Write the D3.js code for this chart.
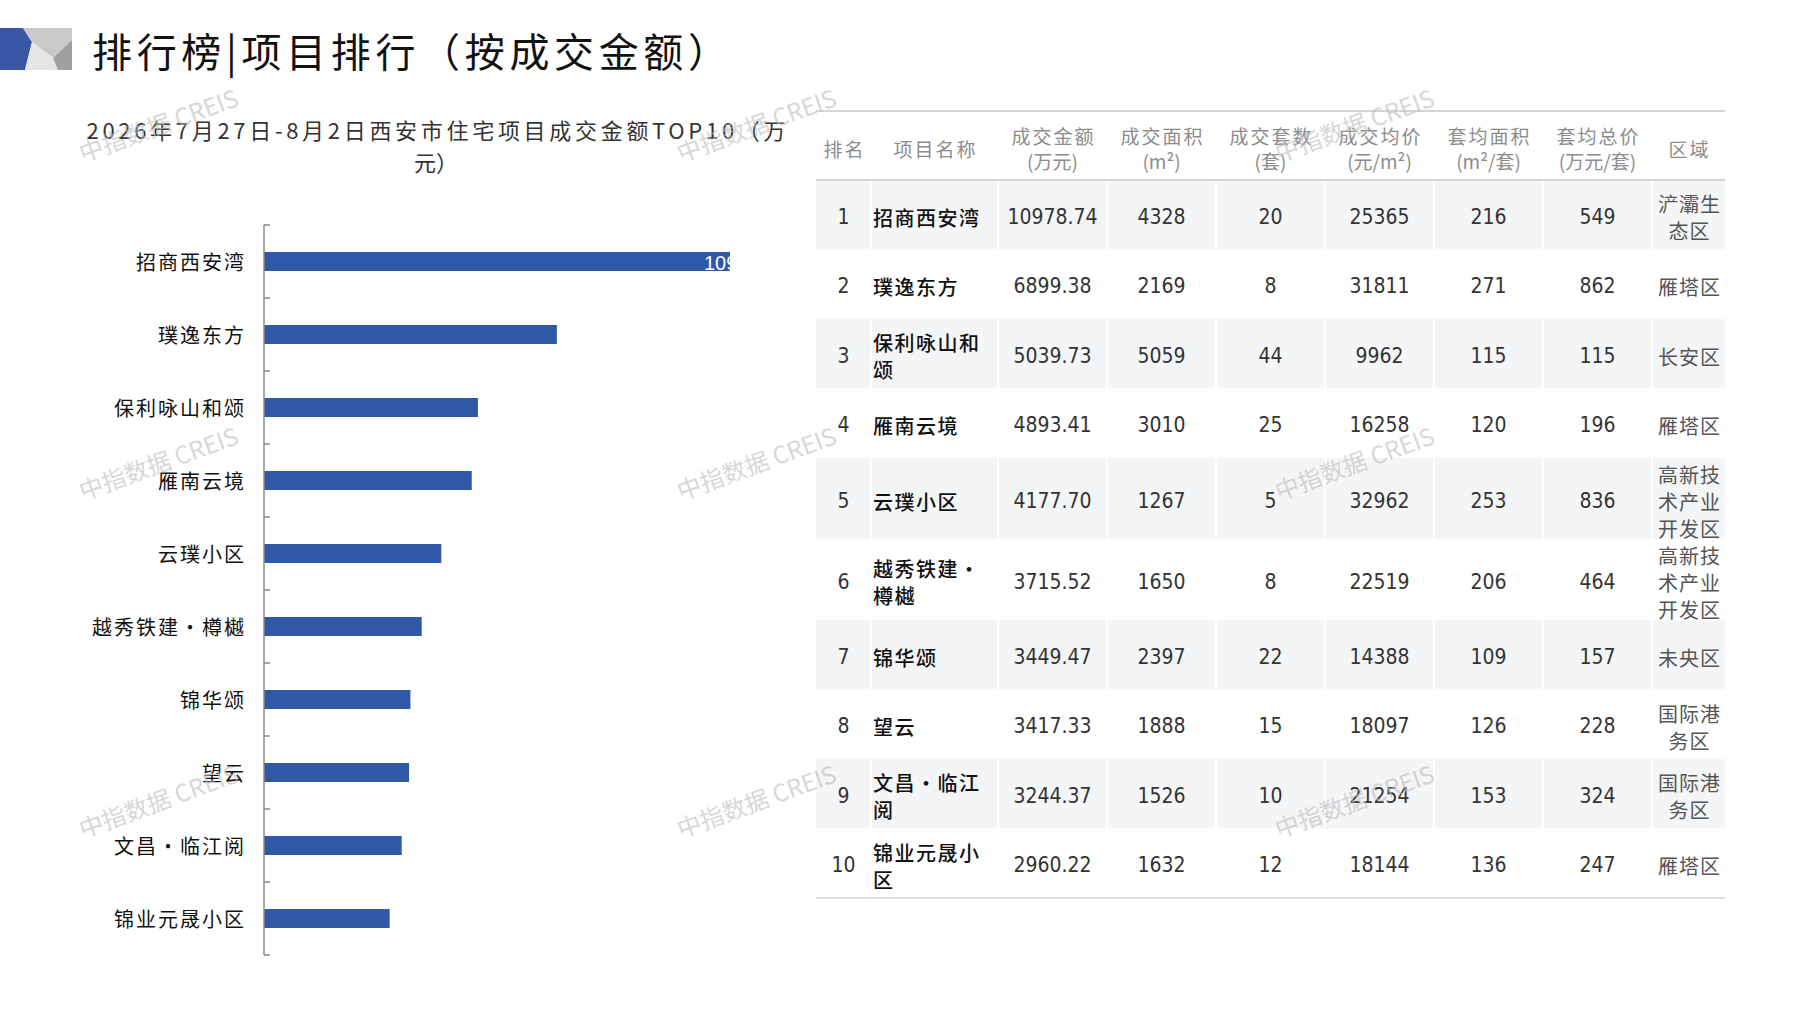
<!DOCTYPE html>
<html>
<head>
<meta charset="utf-8">
<script src="https://cdn.jsdelivr.net/npm/d3@7"></script>
<style>
  body { margin: 0; background: #fff; }
  svg { display: block; }
  .cjk { font-family: "Noto Sans CJK SC", sans-serif; }
  .num { font-family: "Liberation Sans Narrow", "DejaVu Sans Condensed", "Liberation Sans", sans-serif; }
</style>
</head>
<body>
<svg id="chart" width="1797" height="1010"></svg>
<script>
// ---- data ----
const categories = ['招商西安湾', '璞逸东方', '保利咏山和颂', '雁南云境', '云璞小区', '越秀铁建·樽樾', '锦华颂', '望云', '文昌·临江阅', '锦业元晟小区'];
const amount = [10978.74, 6899.38, 5039.73, 4893.41, 4177.70, 3715.52, 3449.47, 3417.33, 3244.37, 2960.22];
const area = [4328, 2169, 5059, 3010, 1267, 1650, 2397, 1888, 1526, 1632];
const units = [20, 8, 44, 25, 5, 8, 22, 15, 10, 12];
const avgPrice = [25365, 31811, 9962, 16258, 32962, 22519, 14388, 18097, 21254, 18144];
const avgArea = [216, 271, 115, 120, 253, 206, 109, 126, 153, 136];
const avgTotal = [549, 862, 115, 196, 836, 464, 157, 228, 324, 247];
const districts = ['浐灞生态区', '雁塔区', '长安区', '雁塔区', '高新技术产业开发区', '高新技术产业开发区', '未央区', '国际港务区', '国际港务区', '雁塔区'];

const headerTop = ['排名', '项目名称', '成交金额', '成交面积', '成交套数', '成交均价', '套均面积', '套均总价', '区域'];
const headerSub = ['', '', '(万元)', '(m²)', '(套)', '(元/m²)', '(m²/套)', '(万元/套)', ''];

const pageTitle = '排行榜|项目排行（按成交金额）';
const chartTitle = ['2026年7月27日-8月2日西安市住宅项目成交金额TOP10（万', '元）'];
const watermark = '中指数据 CREIS';

const svg = d3.select('#chart');

// ---- page header icon + title ----
const icon = svg.append('g');
icon.append('polygon').attr('points', '0,28 23,28 32,42 25,70 0,70').attr('fill', '#3b56a5');
icon.append('polygon').attr('points', '23,28 72,28 72,40 53,58 32,42').attr('fill', '#c9c9c9');
icon.append('polygon').attr('points', '32,42 53,58 58,70 25,70').attr('fill', '#e5e5e5');
icon.append('polygon').attr('points', '72,40 72,70 58,70 53,58').attr('fill', '#9f9f9f');

svg.append('text')
  .attr('class', 'cjk')
  .attr('x', 92).attr('y', 50)
  .attr('dominant-baseline', 'central')
  .attr('textLength', 636)
  .attr('lengthAdjust', 'spacing')
  .style('font-size', '40px')
  .attr('fill', '#111')
  .text(pageTitle);

// ---- bar chart ----
const x = d3.scaleLinear()
  .domain([0, d3.max(amount)])
  .range([264, 730]);

const y = d3.scaleBand()
  .domain(categories)
  .range([225, 955])
  .paddingInner(0.74)
  .paddingOuter(0.37);

svg.selectAll('.ct')
  .data(chartTitle)
  .enter()
  .append('text')
  .attr('class', 'cjk ct')
  .attr('x', 436)
  .attr('y', (d, i) => 129 + i * 32)
  .attr('dominant-baseline', 'central')
  .attr('text-anchor', 'middle')
  .attr('textLength', (d, i) => i === 0 ? 699 : null)
  .attr('lengthAdjust', 'spacing')
  .style('font-size', '22px')
  .attr('fill', '#333')
  .text(d => d);

svg.append('clipPath').attr('id', 'plotClip')
  .append('rect')
  .attr('x', x.range()[0]).attr('y', y.range()[0])
  .attr('width', x.range()[1] - x.range()[0])
  .attr('height', y.range()[1] - y.range()[0]);

const plot = svg.append('g');

plot.selectAll('.bar')
  .data(amount)
  .enter()
  .append('rect')
  .attr('class', 'bar')
  .attr('x', x(0))
  .attr('y', (d, i) => y(categories[i]))
  .attr('width', d => x(d) - x(0))
  .attr('height', y.bandwidth())
  .attr('fill', '#2f58a6');

// only the leading bar carries a (clipped) value label
plot.append('text')
  .attr('clip-path', 'url(#plotClip)')
  .attr('x', x(amount[0]) - 26)
  .attr('y', y(categories[0]) + y.bandwidth() / 2 + 1)
  .attr('dominant-baseline', 'central')
  .style('font-family', '"Liberation Sans", Arial, sans-serif')
  .style('font-size', '20px')
  .attr('fill', '#fff')
  .text(d3.format('.2f')(amount[0]));

// category axis
const axis = svg.append('g').attr('stroke', '#8a8a8a').attr('stroke-width', 1.5);
axis.append('line')
  .attr('x1', x(0)).attr('x2', x(0))
  .attr('y1', y.range()[0]).attr('y2', y.range()[1]);
axis.selectAll('.tick')
  .data(d3.range(categories.length + 1))
  .enter()
  .append('line')
  .attr('x1', x(0)).attr('x2', x(0) + 6)
  .attr('y1', i => y.range()[0] + i * y.step())
  .attr('y2', i => y.range()[0] + i * y.step());

svg.selectAll('.cat')
  .data(categories)
  .enter()
  .append('text')
  .attr('class', 'cjk cat')
  .attr('x', 246)
  .attr('y', d => y(d) + y.bandwidth() / 2)
  .attr('dominant-baseline', 'central')
  .attr('text-anchor', 'end')
  .style('font-size', '20px')
  .style('letter-spacing', '2px')
  .attr('fill', '#111')
  .text(d => d);

// ---- ranking table ----
const colWidths = [55, 127, 109, 109, 109, 109, 109, 109, 73];
const colEdges = [816].concat(Array.from(d3.cumsum(colWidths), v => 816 + v));
const colCenter = i => (colEdges[i] + colEdges[i + 1]) / 2;

const chunk = (s, n) => {
  const out = [];
  const chars = Array.from(s);
  for (let i = 0; i < chars.length; i += n) out.push(chars.slice(i, i + n).join(''));
  return out;
};

const nameLines = categories.map(d => chunk(d, 5));
const distLines = districts.map(d => chunk(d, 3));
const rowHeights = categories.map((d, i) => Math.max(69.5, Math.max(nameLines[i].length, distLines[i].length) * 27));
const headTop = 111, headBottom = 180;
const rowTops = [headBottom].concat(Array.from(d3.cumsum(rowHeights), v => headBottom + v));

const table = svg.append('g');

// shaded odd rows
table.selectAll('.shade')
  .data(categories.filter((d, i) => i % 2 === 0))
  .enter()
  .append('rect')
  .attr('x', colEdges[0])
  .attr('y', d => rowTops[categories.indexOf(d)])
  .attr('width', colEdges[colEdges.length - 1] - colEdges[0])
  .attr('height', d => rowHeights[categories.indexOf(d)])
  .attr('fill', '#f4f5f7');

// white cell separators
table.selectAll('.sep')
  .data(colEdges.slice(1, -1))
  .enter()
  .append('line')
  .attr('x1', d => d).attr('x2', d => d)
  .attr('y1', headBottom).attr('y2', rowTops[rowTops.length - 1])
  .attr('stroke', '#fff').attr('stroke-width', 2);

// horizontal rules
[[headTop, 2], [headBottom, 2], [rowTops[rowTops.length - 1], 1.5]].forEach(([ly, w]) => {
  table.append('line')
    .attr('x1', colEdges[0]).attr('x2', colEdges[colEdges.length - 1])
    .attr('y1', ly).attr('y2', ly)
    .attr('stroke', '#d4d4d4').attr('stroke-width', w);
});

// header text
headerTop.forEach((h, i) => {
  const two = headerSub[i] !== '';
  const mid = (headTop + headBottom) / 2 + 2;
  const t = table.append('text')
    .attr('class', 'cjk')
    .attr('text-anchor', 'middle')
    .attr('dominant-baseline', 'central')
    .style('font-size', '19px')
    .attr('fill', '#8c8c8c');
  t.append('tspan')
    .attr('x', colCenter(i) + 1)
    .attr('y', two ? mid - 12.5 : mid)
    .style('letter-spacing', '2px')
    .text(h);
  if (two) {
    t.append('tspan')
      .attr('x', colCenter(i))
      .attr('y', mid + 12.5)
      .text(headerSub[i]);
  }
});

// body rows
const fmt2 = d3.format('.2f');
categories.forEach((name, i) => {
  const cy = (rowTops[i] + rowTops[i + 1]) / 2 + 2;
  const nums = [String(i + 1), null, fmt2(amount[i]), area[i], units[i], avgPrice[i], avgArea[i], avgTotal[i]];
  nums.forEach((v, c) => {
    if (v === null) return;
    table.append('text')
      .attr('class', 'num')
      .attr('x', colCenter(c))
      .attr('y', cy)
      .attr('text-anchor', 'middle')
      .attr('dominant-baseline', 'central')
      .style('font-size', '21px')
      .attr('fill', '#333')
      .text(v);
  });

  const nl = nameLines[i];
  const nt = table.append('text')
    .attr('class', 'cjk')
    .attr('dominant-baseline', 'central')
    .style('font-size', '20px')
    .style('letter-spacing', '1.5px')
    .style('font-weight', 500)
    .attr('fill', '#111');
  nl.forEach((line, k) => {
    nt.append('tspan')
      .attr('x', colEdges[1] + 2)
      .attr('y', cy + (k - (nl.length - 1) / 2) * 27)
      .text(line);
  });

  const dl = distLines[i];
  const dt = table.append('text')
    .attr('class', 'cjk')
    .attr('text-anchor', 'middle')
    .attr('dominant-baseline', 'central')
    .style('font-size', '20px')
    .style('letter-spacing', '1px')
    .attr('fill', '#555');
  dl.forEach((line, k) => {
    dt.append('tspan')
      .attr('x', colCenter(8) + 1)
      .attr('y', cy + (k - (dl.length - 1) / 2) * 27)
      .text(line);
  });
});

// ---- watermarks ----
const wmX = [158, 756, 1354];
const wmY = [124, 462, 800];
wmY.forEach(wy => wmX.forEach(wx => {
  svg.append('text')
    .attr('class', 'cjk')
    .attr('transform', `translate(${wx},${wy}) rotate(-20)`)
    .attr('text-anchor', 'middle')
    .attr('dominant-baseline', 'central')
    .style('font-size', '24px')
    .attr('fill', '#bdbdbd')
    .attr('opacity', 0.6)
    .text(watermark);
}));
</script>
</body>
</html>
